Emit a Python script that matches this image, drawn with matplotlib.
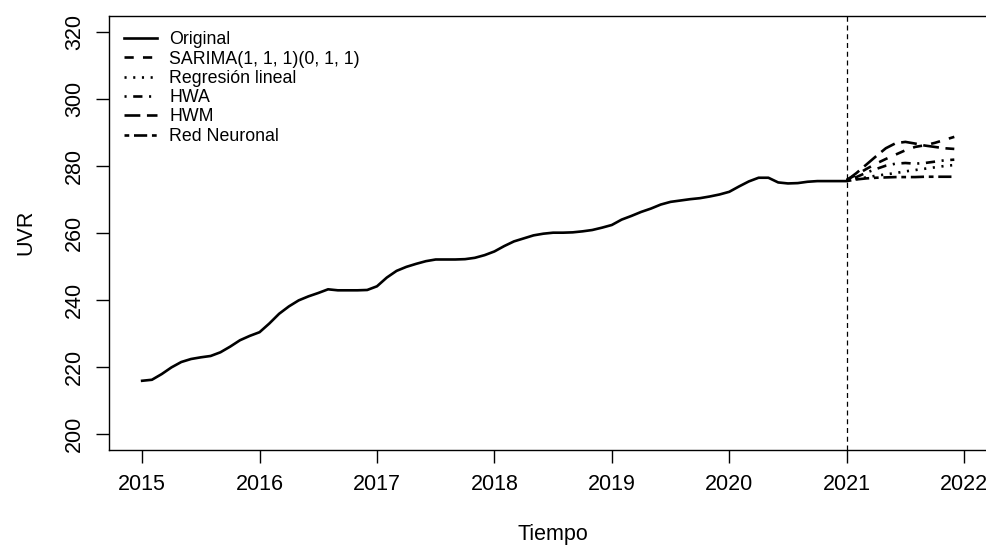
import numpy as np
import matplotlib.pyplot as plt

plt.rcParams['font.family'] = ['Liberation Sans', 'DejaVu Sans']

# monthly UVR, Jan 2015 .. Jan 2021
uvr = [
  215.8, 216.1, 217.8, 219.8, 221.4, 222.3, 222.8, 223.2, 224.3, 226.0, 227.9, 229.2,  # 2015
  230.3, 232.9, 235.8, 238.0, 239.8, 241.0, 242.0, 243.1, 242.8, 242.8, 242.8, 242.9,  # 2016
  244.0, 246.6, 248.6, 249.8, 250.7, 251.5, 252.0, 252.0, 252.0, 252.1, 252.5, 253.3,  # 2017
  254.4, 256.0, 257.4, 258.3, 259.2, 259.7, 260.0, 260.0, 260.1, 260.4, 260.8, 261.5,  # 2018
  262.3, 263.9, 265.0, 266.2, 267.2, 268.4, 269.2, 269.6, 270.0, 270.3, 270.8, 271.4,  # 2019
  272.2, 273.8, 275.3, 276.4, 276.4, 275.0, 274.7, 274.8, 275.2, 275.4, 275.4, 275.4,  # 2020
  275.4,
]
start_year = 2015

# 12-month forecasts for 2021
sarima = [275.8, 277.3, 279.0, 280.6, 282.0, 283.3, 284.6, 285.6, 286.1, 286.8, 287.7, 288.6]
reg_lineal = [275.6, 276.0, 276.5, 277.0, 277.4, 277.8, 278.3, 278.7, 279.1, 279.5, 279.9, 280.2]
hwa = [275.5, 276.6, 277.9, 279.0, 280.0, 280.6, 280.8, 280.6, 280.8, 281.2, 281.6, 281.8]
hwm = [275.6, 277.8, 280.3, 282.8, 285.2, 286.7, 287.1, 286.6, 286.0, 285.6, 285.2, 285.0]
red_neuronal = [275.4, 275.9, 276.2, 276.4, 276.5, 276.6, 276.6, 276.6, 276.7, 276.7, 276.7, 276.7]
fc_start = 2021

labels = ["Original", "SARIMA(1, 1, 1)(0, 1, 1)", "Regresión lineal", "HWA", "HWM", "Red Neuronal"]

t_obs = start_year + np.arange(len(uvr)) / 12
t_fc = fc_start + np.arange(len(sarima)) / 12

fig = plt.figure(figsize=(9.87, 5.45), dpi=100)
ax = fig.add_axes([0.1107, 0.1747, 0.8994, 0.7967])

lw = 1.9
ax.plot(t_obs, uvr, color='black', lw=lw, label=labels[0])
ax.plot(t_fc, sarima, color='black', lw=lw, dashes=(3.5, 3.5), label=labels[1])
ax.plot(t_fc, reg_lineal, color='black', lw=lw, dashes=(0.8, 2.5), label=labels[2])
ax.plot(t_fc, hwa, color='black', lw=lw, dashes=(0.8, 2.5, 3.5, 2.5), label=labels[3])
ax.plot(t_fc, hwm, color='black', lw=lw, dashes=(6, 2.5), label=labels[4])
ax.plot(t_fc, red_neuronal, color='black', lw=lw, dashes=(1.8, 1.8, 5, 1.8), label=labels[5])

# start of the forecast horizon
ax.axvline(fc_start, color='black', lw=0.9, dashes=(4, 3))

ax.set_xlim(2014.72, 2022.28)
ax.set_ylim(195.2, 324.8)
ax.set_xticks(range(2015, 2023))
ax.set_yticks(range(200, 321, 20))
ax.tick_params(axis='both', direction='out', length=9.5, width=1, labelsize=15.5, pad=8)
for lab in ax.get_yticklabels():
  lab.set_rotation(90)
  lab.set_va('center')
for s in ax.spines.values():
  s.set_linewidth(1)

ax.set_xlabel("Tiempo", fontsize=15.5, labelpad=21)
ax.set_ylabel("UVR", fontsize=15.5, labelpad=20)

ax.legend(loc='upper left', bbox_to_anchor=(0.0166, 0.964), frameon=False, fontsize=12.8,
          handlelength=1.85, handletextpad=0.7, labelspacing=0.13, borderaxespad=0, borderpad=0)

fig.savefig("out.png", dpi=100)
